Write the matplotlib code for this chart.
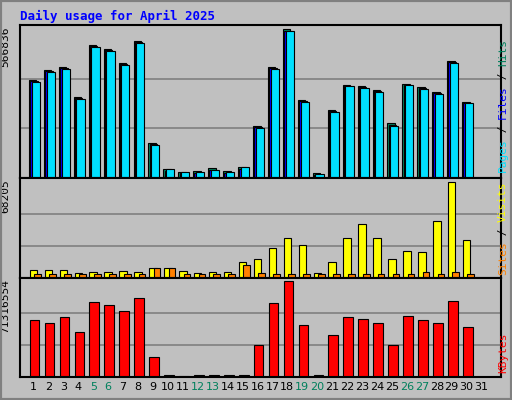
import numpy as np
import matplotlib.pyplot as plt
from matplotlib.patches import Rectangle

days = list(range(1, 32))
weekend = [5, 6, 12, 13, 19, 20, 26, 27]
max_hits = 566836
max_visits = 68205
max_kbytes = 71316554

# values (31st has no data)
hits = [375000, 413000, 424000, 309000, 509000, 494000, 440000, 524000, 135000, 35000,
        23000, 27000, 39000, 27000, 42000, 197000, 424000, 566836, 297000, 19000,
        258000, 355000, 351000, 336000, 208000, 359000, 347000, 328000, 447000, 289000, 0]
files = [370000, 410000, 420000, 305000, 505000, 490000, 436000, 520000, 128000, 28000,
         18000, 20000, 30000, 20000, 35000, 193000, 420000, 560000, 293000, 12000,
         254000, 351000, 347000, 332000, 204000, 355000, 343000, 324000, 443000, 285000, 0]
pages = [365000, 405000, 415000, 300000, 500000, 485000, 430000, 515000, 125000, 35000,
         23000, 24000, 30000, 23000, 42000, 190000, 415000, 560000, 290000, 15000,
         250000, 350000, 345000, 330000, 200000, 355000, 340000, 320000, 440000, 285000, 0]
visits = [6000, 6000, 6000, 3700, 4400, 4400, 5200, 4400, 7400, 7400,
          5200, 3700, 4400, 4400, 11100, 13300, 21500, 28100, 23700, 3700,
          11100, 28100, 38500, 28100, 13300, 19300, 18500, 40700, 68205, 26700, 0]
sites = [3000, 3000, 3000, 2500, 2800, 2800, 3000, 2800, 7000, 7000,
         3000, 2500, 2800, 2800, 9000, 3500, 3000, 3000, 3000, 2500,
         3000, 3000, 3000, 3000, 3000, 3000, 4500, 3000, 4000, 3000, 0]
kbytes = [42300, 40000, 44700, 33700, 55700, 53400, 48600, 58800, 14900, 1600,
          800, 1600, 1600, 1600, 1600, 23500, 54900, 71316, 38400, 1600,
          31300, 44700, 43100, 40000, 23500, 45500, 42300, 40000, 56400, 36800, 0]
kbytes = [k * 1000 for k in kbytes]

bg = '#c0c0c0'
fig = plt.figure(figsize=(5.12, 4.0), dpi=100, facecolor=bg)
fig.patches.append(Rectangle((0, 0), 1, 1, transform=fig.transFigure, fill=False,
                             edgecolor='#808080', lw=3))
mono = 'DejaVu Sans Mono'
fig.text(20 / 512, 1 - 16 / 400, 'Daily usage for April 2025', color='#0000ff',
         fontsize=9, fontweight='bold', family=mono, va='center')

x = np.array(days)
L, R = 20 / 512, 481 / 512

def panel(top, bottom):
    ax = fig.add_axes([L, 1 - bottom / 400, R, (bottom - top) / 400])
    ax.set_facecolor(bg)
    ax.set_xlim(0.1, 32.3)
    ax.set_xticks([])
    ax.set_yticks([])
    for s in ax.spines.values():
        s.set_linewidth(1.5)
    return ax

ax1 = panel(25, 178)
ax1.set_ylim(0, max_hits * 1.03)
for f in (1 / 3, 2 / 3):
    ax1.axhline(max_hits * f, color='#808080', lw=1.2, zorder=0)
ax1.bar(x - 0.3, hits, 0.5, align='edge', color='#00805c', edgecolor='black', lw=0.8)
ax1.bar(x - 0.22, files, 0.5, align='edge', color='#0000ff', edgecolor='black', lw=0.8)
ax1.bar(x - 0.12, pages, 0.55, align='edge', color='#00e0ff', edgecolor='black', lw=0.8)
ax1.text(-0.02, 0.99, str(max_hits), transform=ax1.transAxes, rotation=90,
         ha='right', va='top', fontsize=8, family=mono)

ax2 = panel(178, 278)
ax2.set_ylim(0, max_visits * 1.04)
for f in (1 / 3, 2 / 3):
    ax2.axhline(max_visits * f, color='#808080', lw=1.2, zorder=0)
ax2.bar(x - 0.25, visits, 0.5, align='edge', color='#ffff00', edgecolor='black', lw=0.8)
ax2.bar(x + 0.05, sites, 0.45, align='edge', color='#ff8000', edgecolor='black', lw=0.8)
ax2.text(-0.02, 0.99, str(max_visits), transform=ax2.transAxes, rotation=90,
         ha='right', va='top', fontsize=8, family=mono)

ax3 = panel(278, 377)
ax3.set_ylim(0, max_kbytes * 1.03)
for f in (1 / 3, 2 / 3):
    ax3.axhline(max_kbytes * f, color='#808080', lw=1.2, zorder=0)
ax3.bar(x - 0.25, kbytes, 0.65, align='edge', color='#ff0000', edgecolor='black', lw=0.8)
ax3.text(-0.02, 0.99, str(max_kbytes), transform=ax3.transAxes, rotation=90,
         ha='right', va='top', fontsize=8, family=mono)

for d in days:
    ax3.text(d, -0.1, str(d), transform=ax3.get_xaxis_transform(), ha='center', va='center',
             fontsize=8, color='#00805c' if d in weekend else 'black')

# right side legends
rx = 503 / 512
def vlabel(y, parts):
    t = fig.text(rx, y, '', rotation=90)
    t.remove()
    cur = y
    for s, c in parts:
        tt = fig.text(rx, cur, s, rotation=90, color=c, fontsize=8, family=mono,
                      ha='center', va='bottom')
        cur += len(s) * 0.0165

vlabel(1 - 172 / 400, [('Pages', '#00e0ff'), (' / ', 'black'), ('Files', '#0000ff'),
                       (' / ', 'black'), ('Hits', '#00805c')])
vlabel(1 - 275 / 400, [('Sites', '#ff8000'), (' / ', 'black'), ('Visits', '#ffff00')])
vlabel(1 - 373 / 400, [('KBytes', '#ff0000')])

fig.savefig('out.png', dpi=100, facecolor=bg)
